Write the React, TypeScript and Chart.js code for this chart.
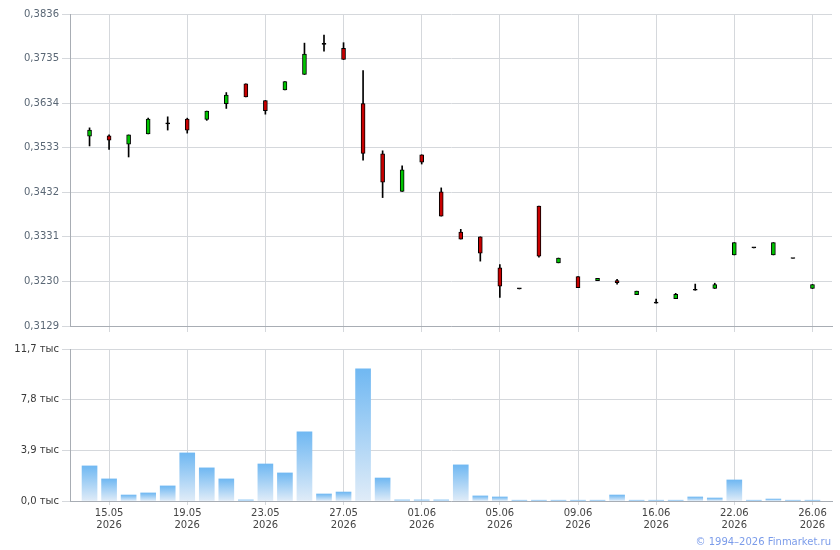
import { useEffect, useRef } from "react";
import { Chart, registerables, ChartConfiguration } from "chart.js";

Chart.register(...registerables);
Chart.defaults.font.family = "'DejaVu Sans', Verdana, sans-serif";
Chart.defaults.font.size = 10;

// trading days shown on the chart
const dates = [
  "14.05", "15.05", "16.05", "17.05", "18.05", "19.05", "20.05", "21.05",
  "22.05", "23.05", "24.05", "25.05", "26.05", "27.05", "28.05", "29.05",
  "30.05", "01.06", "02.06", "03.06", "04.06", "05.06", "06.06", "07.06",
  "08.06", "09.06", "10.06", "11.06", "13.06", "16.06", "17.06", "19.06",
  "20.06", "22.06", "23.06", "24.06", "25.06", "26.06",
];
const year = "2026";

const opens = [
  0.3559, 0.356, 0.3541, 0.3564, 0.3587, 0.3598, 0.3597, 0.3633,
  0.3678, 0.364, 0.3664, 0.3699, 0.3767, 0.3758, 0.3633, 0.3519,
  0.3434, 0.3517, 0.3433, 0.3342, 0.3331, 0.3261, 0.3213, 0.3401,
  0.3272, 0.3241, 0.3232, 0.3232, 0.32, 0.3181, 0.3191, 0.321,
  0.3214, 0.329, 0.3306, 0.329, 0.3282, 0.3214,
];
const highs = [
  0.3578, 0.3562, 0.3562, 0.36, 0.3603, 0.36, 0.3616, 0.3658,
  0.3678, 0.364, 0.3683, 0.377, 0.3788, 0.3771, 0.3708, 0.3526,
  0.3492, 0.3517, 0.3442, 0.3348, 0.3331, 0.3268, 0.3213, 0.3401,
  0.3283, 0.3241, 0.3237, 0.3235, 0.3208, 0.319, 0.3203, 0.3224,
  0.3226, 0.3318, 0.3306, 0.3318, 0.3282, 0.3223,
];
const lows = [
  0.3537, 0.3529, 0.3512, 0.3564, 0.3573, 0.3566, 0.3595, 0.3622,
  0.3648, 0.3609, 0.3664, 0.3699, 0.3752, 0.3733, 0.3505, 0.342,
  0.3434, 0.3496, 0.3378, 0.3326, 0.3276, 0.3194, 0.3213, 0.3285,
  0.3272, 0.3216, 0.3232, 0.3224, 0.32, 0.3181, 0.3191, 0.321,
  0.3214, 0.329, 0.3306, 0.329, 0.3282, 0.3214,
];
const closes = [
  0.3573, 0.355, 0.3562, 0.3598, 0.3587, 0.3573, 0.3616, 0.3652,
  0.3648, 0.3617, 0.3683, 0.3745, 0.3767, 0.3733, 0.352, 0.3455,
  0.3483, 0.35, 0.3378, 0.3326, 0.3294, 0.3219, 0.3213, 0.3287,
  0.3283, 0.3216, 0.3237, 0.3227, 0.3208, 0.3181, 0.3201, 0.321,
  0.3223, 0.3318, 0.3306, 0.3318, 0.3282, 0.3223,
];
// volume, thousands
const volumes = [
  2.7, 1.7, 0.46, 0.62, 1.16, 3.7, 2.55, 1.7, 0.08, 2.85, 2.16, 5.32, 0.54,
  0.69, 10.18, 1.77, 0.08, 0.08, 0.08, 2.78, 0.39, 0.31, 0.06, 0.06, 0.06,
  0.06, 0.06, 0.46, 0.06, 0.06, 0.06, 0.31, 0.23, 1.62, 0.06, 0.15, 0.06, 0.06,
];

const priceTicks = [0.3129, 0.323, 0.3331, 0.3432, 0.3533, 0.3634, 0.3735, 0.3836];
const volumeTicks = [0, 3.9, 7.8, 11.7];

// one empty slot on each side of the candles
const labels = ["", ...dates, ""];
const pad = <T,>(arr: T[]): (T | null)[] => [null, ...arr, null];

const GRID = "#d5d8dc";
const AXIS = "#a8adb4";

const keepDateTicks = (scale: any) => {
  scale.ticks = scale.ticks.filter(
    (t: any) => t.value >= 2 && (t.value - 2) % 4 === 0
  );
};

const candleColor = (i: number) =>
  closes[i] > opens[i] ? "#00c400" : closes[i] < opens[i] ? "#c80000" : "#000000";

function PriceChart() {
  const chartRef = useRef<HTMLCanvasElement | null>(null);

  useEffect(() => {
    if (!chartRef.current) return;
    const config: ChartConfiguration = {
      type: "bar",
      data: {
        labels,
        datasets: [
          {
            label: "body",
            data: pad(opens.map((o, i) => [o, closes[i]])) as any,
            backgroundColor: pad(opens.map((_, i) => candleColor(i))) as any,
            borderColor: "#000000",
            borderWidth: 1,
            borderSkipped: false,
            barThickness: 4,
            minBarLength: 1,
            grouped: false,
          },
          {
            label: "wick",
            data: pad(lows.map((l, i) => [l, highs[i]])) as any,
            backgroundColor: "#000000",
            borderWidth: 0,
            barThickness: 1,
            grouped: false,
          },
        ],
      },
      options: {
        responsive: true,
        maintainAspectRatio: false,
        animation: false,
        layout: { padding: { top: 14, right: 8, left: 0, bottom: 0 } },
        plugins: { legend: { display: false }, tooltip: { enabled: false } },
        scales: {
          x: {
            type: "category",
            offset: false,
            grid: { color: GRID, tickLength: 6, offset: false },
            border: { color: AXIS },
            ticks: { display: false, autoSkip: false },
            afterBuildTicks: keepDateTicks,
            afterFit: (s: any) => {
              s.height = 14;
            },
          },
          y: {
            min: priceTicks[0],
            max: priceTicks[priceTicks.length - 1],
            grid: { color: GRID, tickLength: 8 },
            border: { color: AXIS },
            ticks: {
              color: "#5a6775",
              padding: 3,
              callback: (v) => Number(v).toFixed(4).replace(".", ","),
            },
            afterBuildTicks: (s: any) => {
              s.ticks = priceTicks.map((v) => ({ value: v }));
            },
            afterFit: (s: any) => {
              s.width = 70;
            },
          },
        },
      },
    };
    const chart = new Chart(chartRef.current, config);
    return () => chart.destroy();
  }, []);

  return <canvas ref={chartRef}></canvas>;
}

function VolumeChart() {
  const chartRef = useRef<HTMLCanvasElement | null>(null);

  useEffect(() => {
    if (!chartRef.current) return;
    const config: ChartConfiguration = {
      type: "bar",
      data: {
        labels,
        datasets: [
          {
            label: "volume",
            data: pad(volumes) as any,
            barThickness: 15,
            borderWidth: 0,
            backgroundColor: (ctx: any) => {
              const chart = ctx.chart;
              const v = ctx.raw;
              if (!chart.chartArea || v == null) return "#9cc9f2";
              const y = chart.scales.y;
              const top = y.getPixelForValue(v);
              const base = y.getPixelForValue(0);
              const g = chart.ctx.createLinearGradient(0, top, 0, base + 0.01);
              g.addColorStop(0, "#70b8f2");
              g.addColorStop(1, "#e0ecf8");
              return g;
            },
          },
        ],
      },
      options: {
        responsive: true,
        maintainAspectRatio: false,
        animation: false,
        layout: { padding: { top: 14, right: 8, left: 0, bottom: 0 } },
        plugins: { legend: { display: false }, tooltip: { enabled: false } },
        scales: {
          x: {
            type: "category",
            offset: false,
            grid: { color: GRID, tickLength: 4, offset: false },
            border: { color: AXIS },
            ticks: {
              autoSkip: false,
              maxRotation: 0,
              color: "#444444",
              padding: 2,
              callback: (v) => [labels[Number(v)], year],
            },
            afterBuildTicks: keepDateTicks,
            afterFit: (s: any) => {
              s.height = 34;
            },
          },
          y: {
            min: volumeTicks[0],
            max: volumeTicks[volumeTicks.length - 1],
            grid: { color: GRID, tickLength: 8 },
            border: { color: AXIS },
            ticks: {
              color: "#3a3a3a",
              padding: 3,
              callback: (v) => Number(v).toFixed(1).replace(".", ",") + " тыс",
            },
            afterBuildTicks: (s: any) => {
              s.ticks = volumeTicks.map((v) => ({ value: v }));
            },
            afterFit: (s: any) => {
              s.width = 70;
            },
          },
        },
      },
    };
    const chart = new Chart(chartRef.current, config);
    return () => chart.destroy();
  }, []);

  return <canvas ref={chartRef}></canvas>;
}

export default function App() {
  return (
    <div
      style={{
        position: "fixed",
        left: 0,
        top: 0,
        width: 840,
        height: 550,
        background: "#ffffff",
        fontFamily: "'DejaVu Sans', Verdana, sans-serif",
      }}
    >
      <div style={{ position: "absolute", left: 0, top: 0, width: 840, height: 340 }}>
        <PriceChart />
      </div>
      <div style={{ position: "absolute", left: 0, top: 335, width: 840, height: 200 }}>
        <VolumeChart />
      </div>
      <div
        style={{
          position: "absolute",
          right: 9,
          top: 536,
          fontSize: 10,
          lineHeight: "12px",
          color: "#7b9cea",
          whiteSpace: "nowrap",
        }}
      >
        © 1994–2026 Finmarket.ru
      </div>
    </div>
  );
}
